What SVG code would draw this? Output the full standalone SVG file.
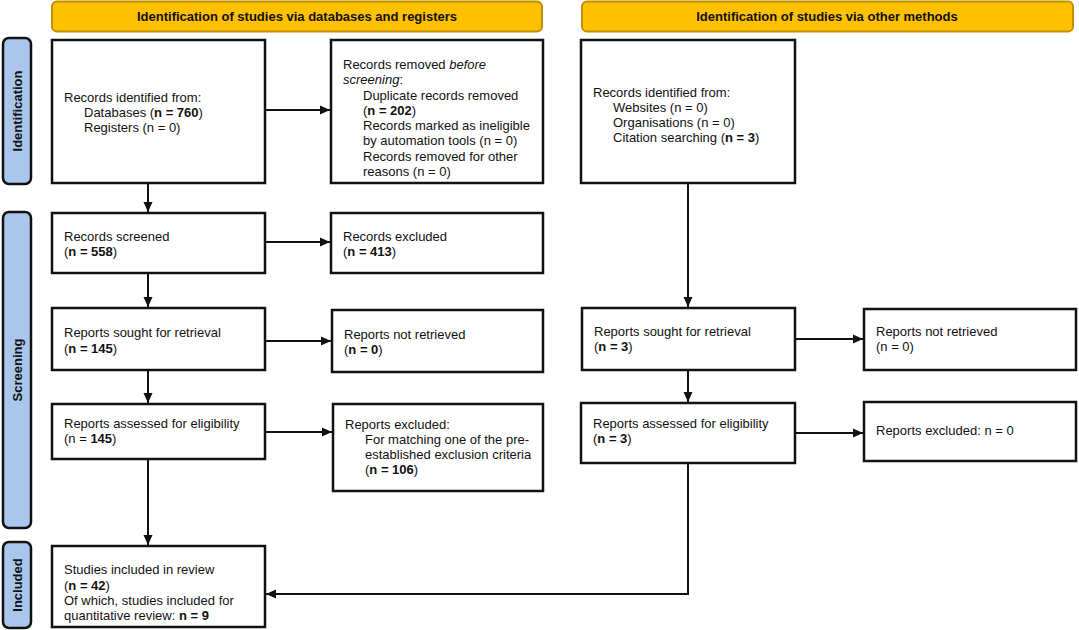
<svg xmlns="http://www.w3.org/2000/svg" width="1079" height="630" viewBox="0 0 1079 630">
<style>
text{font-family:"Liberation Sans",Arial,sans-serif;font-size:13px;fill:#111}
.b{font-weight:bold}
.hdr{fill:#FFC000;stroke:#C09000;stroke-width:2}
.bar{fill:#AAC6EC;stroke:#111;stroke-width:2.5}
.box{fill:#fff;stroke:#111;stroke-width:2.5}
.ht{font-weight:bold;text-anchor:middle}
.st{font-weight:bold;text-anchor:middle}
.con{fill:none;stroke:#111;stroke-width:2}
</style>
<defs>
<marker id="ah" markerUnits="userSpaceOnUse" markerWidth="10" markerHeight="10" viewBox="0 0 10 10" refX="10" refY="5" orient="auto">
<path d="M0,0.5 L10,5 L0,9.5 Z" fill="#111"/>
</marker>
</defs>
<rect width="1079" height="630" fill="#fff"/>

<g id="header-db"><rect class="hdr" x="52" y="1.5" width="490" height="30" rx="5"/><text class="ht" x="297" y="21">Identification of studies via databases and registers</text></g>
<g id="header-other"><rect class="hdr" x="582" y="1.5" width="491" height="30" rx="5"/><text class="ht" x="827" y="21">Identification of studies via other methods</text></g>

<g id="bar-identification"><rect class="bar" x="3" y="38" width="28" height="146" rx="6"/><text class="st" transform="translate(22,111) rotate(-90)">Identification</text></g>
<g id="bar-screening"><rect class="bar" x="3" y="212" width="28" height="316" rx="6"/><text class="st" transform="translate(22,370) rotate(-90)">Screening</text></g>
<g id="bar-included"><rect class="bar" x="3" y="542" width="28" height="86" rx="6"/><text class="st" transform="translate(22,585) rotate(-90)">Included</text></g>

<g id="n-records-identified"><rect class="box" x="52" y="40" width="213" height="143"/>
<text x="64" y="102">Records identified from:</text>
<text x="84" y="117">Databases (<tspan class="b">n = 760</tspan>)</text>
<text x="84" y="132">Registers (n = 0)</text></g>

<g id="n-records-removed"><rect class="box" x="331" y="40" width="212" height="143"/>
<text x="343" y="69">Records removed <tspan font-style="italic">before</tspan></text>
<text x="343" y="84"><tspan font-style="italic">screening</tspan>:</text>
<text x="363" y="99.5">Duplicate records removed</text>
<text x="363" y="115">(<tspan class="b">n = 202</tspan>)</text>
<text x="363" y="130">Records marked as ineligible</text>
<text x="363" y="145">by automation tools (n = 0)</text>
<text x="363" y="160.5">Records removed for other</text>
<text x="363" y="175.5">reasons (n = 0)</text></g>

<g id="n-records-other"><rect class="box" x="581" y="40" width="214" height="143"/>
<text x="593" y="97">Records identified from:</text>
<text x="613" y="112">Websites (n = 0)</text>
<text x="613" y="127">Organisations (n = 0)</text>
<text x="613" y="142">Citation searching (<tspan class="b">n = 3</tspan>)</text></g>

<g id="n-screened"><rect class="box" x="52" y="213" width="213" height="60"/>
<text x="64" y="241">Records screened</text>
<text x="64" y="256">(<tspan class="b">n = 558</tspan>)</text></g>

<g id="n-excluded"><rect class="box" x="331" y="213" width="212" height="60"/>
<text x="343" y="241">Records excluded</text>
<text x="343" y="256">(<tspan class="b">n = 413</tspan>)</text></g>

<g id="n-sought-db"><rect class="box" x="52" y="308" width="213" height="62"/>
<text x="64" y="337">Reports sought for retrieval</text>
<text x="64" y="353">(<tspan class="b">n = 145</tspan>)</text></g>

<g id="n-notretrieved-db"><rect class="box" x="332" y="310" width="211" height="62"/>
<text x="344" y="339">Reports not retrieved</text>
<text x="344" y="354">(<tspan class="b">n = 0</tspan>)</text></g>

<g id="n-assessed-db"><rect class="box" x="52" y="404" width="213" height="55"/>
<text x="64" y="428">Reports assessed for eligibility</text>
<text x="64" y="443">(n = <tspan class="b">145</tspan>)</text></g>

<g id="n-reports-excluded-db"><rect class="box" x="333" y="404" width="210" height="87"/>
<text x="345" y="429">Reports excluded:</text>
<text x="365" y="444">For matching one of the pre-</text>
<text x="365" y="459">established exclusion criteria</text>
<text x="365" y="474">(<tspan class="b">n = 106</tspan>)</text></g>

<g id="n-sought-other"><rect class="box" x="582" y="308" width="213" height="62"/>
<text x="594" y="336">Reports sought for retrieval</text>
<text x="594" y="351">(<tspan class="b">n = 3</tspan>)</text></g>

<g id="n-notretrieved-other"><rect class="box" x="864" y="309" width="212" height="61"/>
<text x="876" y="336">Reports not retrieved</text>
<text x="876" y="351">(n = 0)</text></g>

<g id="n-assessed-other"><rect class="box" x="581" y="403" width="214" height="60"/>
<text x="593" y="428">Reports assessed for eligibility</text>
<text x="593" y="443">(<tspan class="b">n = 3</tspan>)</text></g>

<g id="n-reports-excluded-other"><rect class="box" x="864" y="402" width="212" height="59"/>
<text x="876" y="435">Reports excluded: n = 0</text></g>

<g id="n-included"><rect class="box" x="52" y="546" width="213" height="81"/>
<text x="64" y="574">Studies included in review</text>
<text x="64" y="589.5">(<tspan class="b">n = 42</tspan>)</text>
<text x="64" y="604.5">Of which, studies included for</text>
<text x="64" y="619.5">quantitative review: <tspan class="b">n = 9</tspan></text></g>

<g id="connectors">
<line class="con" x1="265" y1="110" x2="330" y2="110" marker-end="url(#ah)"/>
<line class="con" x1="148" y1="183" x2="148" y2="212" marker-end="url(#ah)"/>
<line class="con" x1="265" y1="242" x2="330" y2="242" marker-end="url(#ah)"/>
<line class="con" x1="148" y1="273" x2="148" y2="307" marker-end="url(#ah)"/>
<line class="con" x1="265" y1="341" x2="331" y2="341" marker-end="url(#ah)"/>
<line class="con" x1="148" y1="370" x2="148" y2="403" marker-end="url(#ah)"/>
<line class="con" x1="265" y1="432" x2="332" y2="432" marker-end="url(#ah)"/>
<line class="con" x1="148" y1="459" x2="148" y2="545" marker-end="url(#ah)"/>
<line class="con" x1="688" y1="183" x2="688" y2="307" marker-end="url(#ah)"/>
<line class="con" x1="795" y1="339" x2="863" y2="339" marker-end="url(#ah)"/>
<line class="con" x1="688" y1="370" x2="688" y2="402" marker-end="url(#ah)"/>
<line class="con" x1="795" y1="433" x2="863" y2="433" marker-end="url(#ah)"/>
<polyline class="con" points="688,463 688,594 266,594" marker-end="url(#ah)"/>
</g>
</svg>
